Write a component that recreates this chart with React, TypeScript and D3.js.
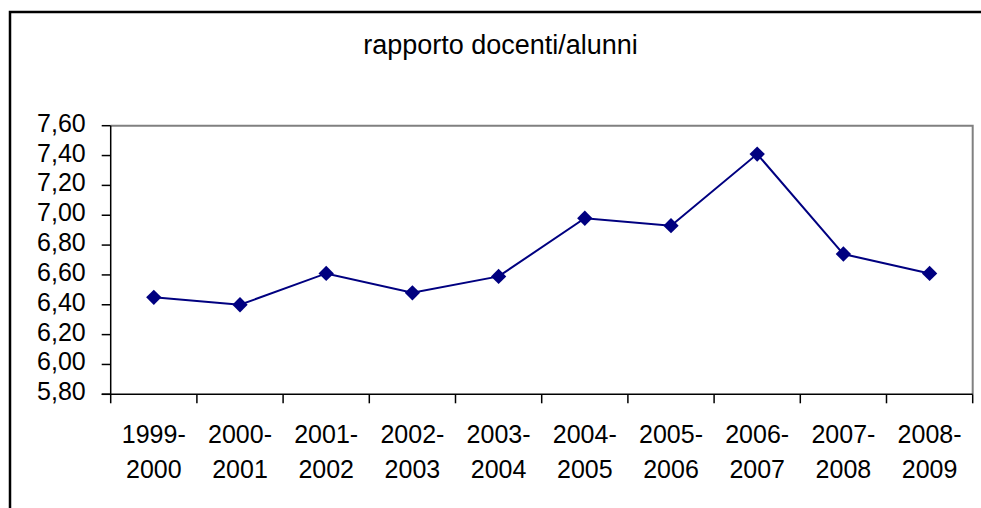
import * as d3 from "d3";
import { useEffect, useRef } from "react";

const title = "rapporto docenti/alunni";
const years = [
  ["1999-", "2000"],
  ["2000-", "2001"],
  ["2001-", "2002"],
  ["2002-", "2003"],
  ["2003-", "2004"],
  ["2004-", "2005"],
  ["2005-", "2006"],
  ["2006-", "2007"],
  ["2007-", "2008"],
  ["2008-", "2009"],
];
const ratio = [6.45, 6.4, 6.61, 6.48, 6.59, 6.98, 6.93, 7.41, 6.74, 6.61];
const yTicks = [5.8, 6.0, 6.2, 6.4, 6.6, 6.8, 7.0, 7.2, 7.4, 7.6];

const App = () => {
  const svgRef = useRef<SVGSVGElement>(null);

  useEffect(() => {
    const width = 981;
    const height = 508;
    const left = 110.7;
    const right = 972.7;
    const top = 125.7;
    const bottom = 394.3;
    const font = "'Liberation Sans', Arial, sans-serif";

    const svg = d3
      .select(svgRef.current)
      .attr("width", width)
      .attr("height", height);

    svg.selectAll("*").remove();

    svg
      .append("rect")
      .attr("width", width)
      .attr("height", height)
      .attr("fill", "#fff");

    // outer chart border (runs off the picture to the right and bottom)
    svg
      .append("rect")
      .attr("x", 10)
      .attr("y", 12)
      .attr("width", 990)
      .attr("height", 520)
      .attr("fill", "none")
      .attr("stroke", "#000")
      .attr("stroke-width", 2.5);

    svg
      .append("text")
      .attr("x", 500.5)
      .attr("y", 53.5)
      .attr("text-anchor", "middle")
      .attr("font-family", font)
      .attr("font-size", 27)
      .attr("fill", "#000")
      .text(title);

    const x = d3
      .scaleBand<number>()
      .domain(d3.range(ratio.length))
      .range([left, right])
      .padding(0);

    const y = d3.scaleLinear().domain([5.8, 7.6]).range([bottom, top]);

    // plot area frame: grey top and right
    svg
      .append("path")
      .attr("d", `M${left},${top}H${right}V${bottom}`)
      .attr("fill", "none")
      .attr("stroke", "#808080")
      .attr("stroke-width", 2);

    // y axis
    const yAxis = svg.append("g").attr("transform", `translate(${left},0)`);
    yAxis
      .append("line")
      .attr("y1", top)
      .attr("y2", bottom)
      .attr("stroke", "#000")
      .attr("stroke-width", 1.5);
    const yt = yAxis
      .selectAll("g")
      .data(yTicks)
      .join("g")
      .attr("transform", (d) => `translate(0,${y(d)})`);
    yt.append("line")
      .attr("x1", -9)
      .attr("x2", 0)
      .attr("stroke", "#000")
      .attr("stroke-width", 1.5);
    yt.append("text")
      .attr("x", -25)
      .attr("y", 6)
      .attr("text-anchor", "end")
      .attr("font-family", font)
      .attr("font-size", 25)
      .attr("fill", "#000")
      .text((d) => d3.format(".2f")(d).replace(".", ","));

    // x axis
    const xAxis = svg.append("g").attr("transform", `translate(0,${bottom})`);
    xAxis
      .append("line")
      .attr("x1", left - 9)
      .attr("x2", right)
      .attr("stroke", "#000")
      .attr("stroke-width", 1.5);
    xAxis
      .selectAll("line.tick")
      .data(d3.range(ratio.length + 1))
      .join("line")
      .attr("class", "tick")
      .attr("x1", (d) => left + d * x.bandwidth())
      .attr("x2", (d) => left + d * x.bandwidth())
      .attr("y1", 0)
      .attr("y2", 9)
      .attr("stroke", "#000")
      .attr("stroke-width", 1.5);
    const xl = xAxis
      .selectAll("text")
      .data(years)
      .join("text")
      .attr("text-anchor", "middle")
      .attr("font-family", font)
      .attr("font-size", 25)
      .attr("fill", "#000");
    xl.append("tspan")
      .attr("x", (_, i) => x(i)! + x.bandwidth() / 2)
      .attr("y", 49)
      .text((d) => d[0]);
    xl.append("tspan")
      .attr("x", (_, i) => x(i)! + x.bandwidth() / 2)
      .attr("y", 84)
      .text((d) => d[1]);

    // series
    const cx = (i: number) => x(i)! + x.bandwidth() / 2;
    const line = d3
      .line<number>()
      .x((_, i) => cx(i))
      .y((d) => y(d));

    svg
      .append("path")
      .datum(ratio)
      .attr("d", line)
      .attr("fill", "none")
      .attr("stroke", "#000080")
      .attr("stroke-width", 2);

    svg
      .append("g")
      .selectAll("path")
      .data(ratio)
      .join("path")
      .attr("d", d3.symbol(d3.symbolDiamond2, 150))
      .attr("transform", (d, i) => `translate(${cx(i)},${y(d)})`)
      .attr("fill", "#000080");
  }, []);

  return (
    <svg
      ref={svgRef}
      style={{ position: "absolute", left: 0, top: 0, display: "block" }}
    ></svg>
  );
};

export default App;
